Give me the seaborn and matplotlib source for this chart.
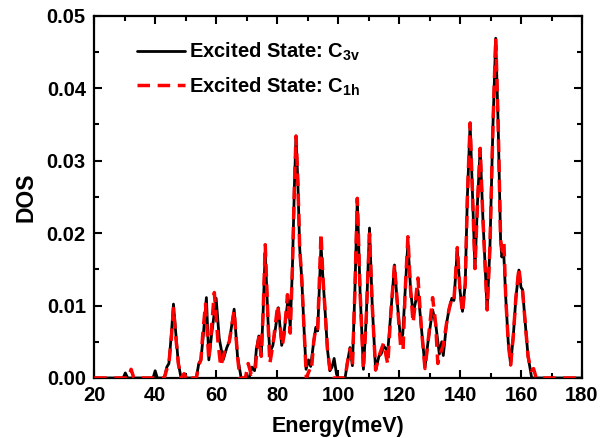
import numpy as np
import pandas as pd
import matplotlib
matplotlib.use("Agg")
import matplotlib.pyplot as plt
from matplotlib.ticker import MultipleLocator, FormatStrFormatter
import seaborn as sns

# ---- data ----
c3v_energy = [20, 29.5, 30.2, 31, 39.3, 40, 40.7, 43, 43.8, 44.5, 45.3, 46.0, 46.8, 47.6, 48.5,
              53.5, 54.3, 55, 55.8, 56.8, 57.6, 58.5, 60.0, 61.0, 62.3, 63.5, 64.3, 65.9, 67.0,
              68.2, 70.8, 71.7, 72.6, 73.2, 74.0, 74.8, 75.4, 76.1, 77.0, 77.6, 78.6, 79.5, 80.4,
              81.5, 82.2, 83.6, 84.3, 85.0, 85.7, 86.2, 86.8, 87.4, 88.1, 88.8, 89.5, 90.3, 91.0,
              92.0, 92.7, 93.3, 94.4, 95.0, 95.7, 96.5, 97.3, 98.0, 98.7, 99.5, 100.2, 102.3,
              103.0, 103.9, 104.7, 105.5, 106.3, 107.2, 108.3, 109.2, 110.3, 111.2, 112.3, 113.4,
              114.1, 115.0, 116.3, 117.3, 118.5, 119.3, 120.5, 121.2, 122.0, 122.9, 123.8, 124.6,
              126.2, 127.3, 128.5, 129.5, 131.0, 132.0, 133.2, 134.0, 134.5, 135.6, 136.4, 137.3,
              138.0, 139.1, 140.0, 140.8, 141.7, 142.4, 143.3, 144.2, 144.9, 145.7, 146.6, 147.5,
              148.9, 149.8, 150.8, 151.7, 152.5, 153.3, 153.7, 154.3, 155.0, 155.8, 156.6, 157.5,
              158.3, 159.3, 160.0, 160.5, 161.3, 162.3, 163.5, 180]
c3v_dos = [0, 0, 0.0007, 0, 0, 0.001, 0, 0, 0.0015, 0.002, 0.006, 0.0102, 0.006, 0.002, 0,
           0, 0.002, 0.0025, 0.006, 0.0111, 0.0025, 0.006, 0.011, 0.0055, 0.0025, 0.0042, 0.005, 0.0095, 0.003,
           0, 0, 0.0015, 0.001, 0.004, 0.0058, 0.003, 0.009, 0.0175, 0.008, 0.0035, 0.0045, 0.007, 0.0097,
           0.0045, 0.006, 0.011, 0.007, 0.015, 0.027, 0.0334, 0.027, 0.018, 0.0135, 0.007, 0.0012, 0.0025, 0.0016,
           0.005, 0.007, 0.0065, 0.0184, 0.014, 0.0095, 0.004, 0.001, 0.0015, 0.0027, 0.0005, 0, 0,
           0.002, 0.0042, 0.0017, 0.012, 0.0248, 0.012, 0.0012, 0.008, 0.0207, 0.010, 0.0011, 0.003,
           0.0033, 0.0044, 0.0037, 0.009, 0.0156, 0.011, 0.0052, 0.006, 0.012, 0.0188, 0.012, 0.0089,
           0.0121, 0.007, 0.0015, 0.005, 0.0094, 0.0075, 0.0033, 0.005, 0.0031, 0.0076, 0.0095, 0.011,
           0.0107, 0.0177, 0.012, 0.0092, 0.013, 0.025, 0.0352, 0.024, 0.0151, 0.024, 0.0317, 0.022,
           0.0094, 0.018, 0.035, 0.0469, 0.035, 0.019, 0.0167, 0.0175, 0.011, 0.005, 0.0018, 0.006,
           0.011, 0.0149, 0.0125, 0.0122, 0.008, 0.003, 0, 0]

c1h_energy = [20, 31.2, 32.1, 33.0, 43, 43.8, 44.5, 45.3, 46.0, 46.8, 47.6, 48.5, 49.5, 50.2, 51.0, 51.7,
              53.5, 54.3, 55, 55.6, 56.5, 57.6, 58.3, 59.4, 60.6, 61.5, 63.0, 64.3, 65.9, 67.0, 67.8,
              69.6, 70.5, 71.5, 72.8, 73.4, 74.0, 74.8, 75.4, 76.1, 77.0, 77.6, 78.6, 79.3, 80.2,
              81.7, 82.3, 83.4, 84.3, 85.0, 85.7, 86.2, 86.8, 87.4, 88.1, 88.8, 89.6, 90.5, 91.2,
              92.0, 92.7, 93.3, 94.4, 95.0, 95.7, 96.5, 97.5, 98.3, 102.3,
              103.0, 103.9, 104.7, 105.5, 106.3, 107.2, 108.3, 109.2, 110.3, 111.2, 112.3, 113.4,
              114.9, 116.3, 117.3, 118.5, 119.3, 120.5, 121.3, 122.0, 122.9, 123.8, 124.6,
              126.2, 127.3, 128.5, 129.5, 131.0, 132.0, 132.7, 133.6, 134.5, 135.6, 136.4, 137.3,
              138.0, 139.1, 140.0, 140.8, 141.7, 142.4, 143.3, 144.2, 144.9, 145.7, 146.6, 147.5,
              148.9, 149.8, 150.8, 151.7, 152.5, 153.3, 153.9, 154.4, 155.0, 155.8, 156.6, 157.5,
              158.3, 159.3, 160.0, 160.5, 161.3, 162.3, 163.3, 164.1, 165.0, 180]
c1h_dos = [0, 0, 0.0012, 0, 0, 0.0012, 0.002, 0.0055, 0.0096, 0.0055, 0.002, 0, 0.0006, 0, 0.0005, 0,
           0, 0.0018, 0.0025, 0.006, 0.0102, 0.0025, 0.006, 0.0118, 0.005, 0.0016, 0.004, 0.005, 0.0093, 0.003, 0,
           0, 0.002, 0.0005, 0.001, 0.004, 0.0056, 0.003, 0.009, 0.0184, 0.008, 0.002, 0.0045, 0.007, 0.0101,
           0.0045, 0.006, 0.0115, 0.0062, 0.015, 0.027, 0.0334, 0.027, 0.018, 0.0135, 0.007, 0, 0.001, 0.0008,
           0.005, 0.007, 0.0068, 0.020, 0.014, 0.0095, 0.004, 0.0005, 0, 0,
           0.002, 0.004, 0.0017, 0.012, 0.0248, 0.012, 0.0012, 0.008, 0.0199, 0.010, 0.0011, 0.003,
           0.0048, 0.0019, 0.009, 0.0156, 0.011, 0.0045, 0.0038, 0.012, 0.0195, 0.012, 0.0076,
           0.0138, 0.007, 0.0013, 0.005, 0.0111, 0.0075, 0.002, 0.0035, 0.0045, 0.0076, 0.0095, 0.011,
           0.0107, 0.018, 0.012, 0.009, 0.013, 0.025, 0.0352, 0.024, 0.0151, 0.024, 0.0317, 0.022,
           0.0094, 0.018, 0.035, 0.0469, 0.035, 0.019, 0.0175, 0.0186, 0.011, 0.005, 0.0018, 0.006,
           0.011, 0.0152, 0.0125, 0.012, 0.008, 0.003, 0.001, 0.0013, 0, 0]

labels = ["Excited State: C$_{3v}$", "Excited State: C$_{1h}$"]

df = pd.concat([
    pd.DataFrame({"Energy": c3v_energy, "DOS": c3v_dos, "state": labels[0]}),
    pd.DataFrame({"Energy": c1h_energy, "DOS": c1h_dos, "state": labels[1]}),
], ignore_index=True)

sns.set_style("ticks")
plt.rcParams["font.family"] = ["Liberation Sans", "DejaVu Sans"]
plt.rcParams["font.weight"] = "bold"
plt.rcParams["mathtext.fontset"] = "custom"
plt.rcParams["mathtext.rm"] = "Liberation Sans:bold"
plt.rcParams["mathtext.it"] = "Liberation Sans:bold"
plt.rcParams["mathtext.bf"] = "Liberation Sans:bold"
plt.rcParams["mathtext.default"] = "rm"
for key in ["text.color", "axes.labelcolor", "xtick.color", "ytick.color", "axes.edgecolor"]:
    plt.rcParams[key] = "black"

fig = plt.figure(figsize=(6.0, 4.38), dpi=100)
ax = fig.add_axes([0.157, 0.137, 0.813, 0.827])

sns.lineplot(data=df, x="Energy", y="DOS", hue="state", style="state",
             palette={labels[0]: "black", labels[1]: "#ff0000"},
             dashes={labels[0]: "", labels[1]: (3.6, 2.2)},
             sort=False, estimator=None, ax=ax, legend=False)
lines = ax.get_lines()
lines[0].set_linewidth(2.0)
lines[1].set_linewidth(2.5)
lines[1].set_zorder(3)

ax.set_xlim(20, 180)
ax.set_ylim(0, 0.05)
ax.xaxis.set_major_locator(MultipleLocator(20))
ax.xaxis.set_minor_locator(MultipleLocator(10))
ax.yaxis.set_major_locator(MultipleLocator(0.01))
ax.yaxis.set_minor_locator(MultipleLocator(0.005))
ax.yaxis.set_major_formatter(FormatStrFormatter("%.2f"))
ax.tick_params(which="both", direction="in", top=True, right=True, width=1.5, colors="black")
ax.tick_params(which="major", length=6, labelsize=14.5, pad=6)
ax.tick_params(which="minor", length=3.5)
for lab in ax.get_xticklabels() + ax.get_yticklabels():
    lab.set_fontweight("bold")
for s in ax.spines.values():
    s.set_linewidth(1.6)
    s.set_color("black")

ax.set_xlabel("Energy(meV)", fontsize=15.5, fontweight="bold", labelpad=8)
ax.set_ylabel("DOS", fontsize=16.5, fontweight="bold", labelpad=7)

ax.legend(handles=lines, labels=labels, loc="upper left", bbox_to_anchor=(0.05, 0.98),
          frameon=False, handlelength=2.4, handletextpad=0.2,
          labelspacing=0.6, prop={"weight": "bold", "size": 14.5})

fig.savefig("out.png", dpi=100)
